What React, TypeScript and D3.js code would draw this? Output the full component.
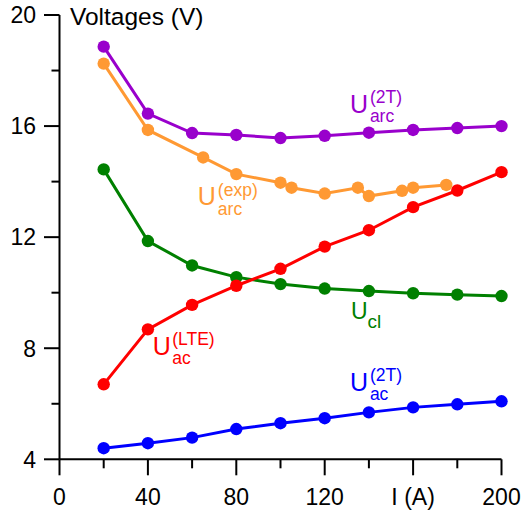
import React from "react";
import * as d3 from "d3";

const currents = [20, 40, 60, 80, 100, 120, 140, 160, 180, 200];
const uArc2T = [18.86, 16.45, 15.75, 15.68, 15.57, 15.65, 15.76, 15.86, 15.93, 16.0];
const uCl = [14.44, 11.86, 10.98, 10.56, 10.31, 10.15, 10.06, 9.98, 9.93, 9.88];
const uAcLTE = [6.7, 8.68, 9.56, 10.25, 10.86, 11.66, 12.25, 13.08, 13.68, 14.34];
const uAc2T = [4.4, 4.58, 4.78, 5.09, 5.3, 5.48, 5.69, 5.87, 5.98, 6.09];
const expCurrents = [20, 40, 65, 80, 100, 105, 120, 135, 140, 155, 160, 175];
const uArcExp = [18.25, 15.86, 14.87, 14.27, 13.96, 13.78, 13.57, 13.78, 13.48, 13.67, 13.78, 13.88];

const xTickValues = [0, 40, 80, 120, 160, 200];
const xTickLabels = ["0", "40", "80", "120", "I (A)", "200"];
const xMinorTicks = [20, 60, 100, 140, 180];
const yTickValues = [4, 8, 12, 16, 20];
const yMinorTicks = [6, 10, 14, 18];

const FONT = "'Liberation Sans', Arial, Helvetica, sans-serif";

type Series = { xs: number[]; ys: number[]; color: string };
type Label = { x: number; y: number; sup?: string; sub: string; color: string; size: number; off: number };

export default function App() {
  const x = d3.scaleLinear().domain([0, 200]).range([59.5, 501.5]);
  const y = d3.scaleLinear().domain([4, 20]).range([459.3, 15]);

  const series: Series[] = [
    { xs: currents, ys: uCl, color: "#008000" },
    { xs: currents, ys: uAcLTE, color: "#FF0000" },
    { xs: currents, ys: uAc2T, color: "#0000FF" },
    { xs: expCurrents, ys: uArcExp, color: "#FF9933" },
    { xs: currents, ys: uArc2T, color: "#9900CC" },
  ];

  const labels: Label[] = [
    { x: 131.4, y: 16.47, sup: "(2T)", sub: "arc", color: "#9900CC", size: 25, off: 20 },
    { x: 62.6, y: 13.14, sup: "(exp)", sub: "arc", color: "#FF9933", size: 25, off: 20 },
    { x: 42.2, y: 7.76, sup: "(LTE)", sub: "ac", color: "#FF0000", size: 25, off: 19.5 },
    { x: 131.9, y: 9.05, sub: "cl", color: "#008000", size: 23, off: 16.5 },
    { x: 131.4, y: 6.47, sup: "(2T)", sub: "ac", color: "#0000FF", size: 25, off: 20 },
  ];

  const line = d3
    .line<[number, number]>()
    .x((d) => x(d[0]))
    .y((d) => y(d[1]));

  return (
    <svg width={522} height={512} style={{ display: "block", position: "absolute", left: 0, top: 0 }} fontFamily={FONT}>
      <rect width={522} height={512} fill="#fff" />
      {/* axes */}
      <line x1={x(0)} x2={x(0)} y1={y(20)} y2={y(4)} stroke="#000" strokeWidth={2} />
      <line x1={x(0)} x2={x(200)} y1={y(4)} y2={y(4)} stroke="#000" strokeWidth={2} />
      {yTickValues.map((v) => (
        <g key={"yt" + v}>
          <line x1={x(0) - 15.5} x2={x(0)} y1={y(v)} y2={y(v)} stroke="#000" strokeWidth={2} />
          <text x={36} y={y(v)} dy="0.36em" textAnchor="end" fontSize={23} fill="#000">
            {v}
          </text>
        </g>
      ))}
      {yMinorTicks.map((v) => (
        <line key={"ym" + v} x1={x(0) - 8} x2={x(0)} y1={y(v)} y2={y(v)} stroke="#000" strokeWidth={2} />
      ))}
      {xTickValues.map((v, i) => (
        <g key={"xt" + v}>
          <line x1={x(v)} x2={x(v)} y1={y(4)} y2={y(4) + 16} stroke="#000" strokeWidth={2} />
          <text x={x(v)} y={505} textAnchor="middle" fontSize={23} fill="#000">
            {xTickLabels[i]}
          </text>
        </g>
      ))}
      {xMinorTicks.map((v) => (
        <line key={"xm" + v} x1={x(v)} x2={x(v)} y1={y(4)} y2={y(4) + 9} stroke="#000" strokeWidth={2} />
      ))}
      <text x={70} y={25} fontSize={24.5} fill="#000">
        Voltages (V)
      </text>
      {/* series */}
      {series.map((s, si) => {
        const pts: [number, number][] = s.xs.map((v, i) => [v, s.ys[i]]);
        return (
          <g key={"s" + si}>
            <path d={line(pts) || ""} fill="none" stroke={s.color} strokeWidth={3} />
            {pts.map((p, i) => (
              <circle key={i} cx={x(p[0])} cy={y(p[1])} r={6.2} fill={s.color} />
            ))}
          </g>
        );
      })}
      {/* labels */}
      {labels.map((l, i) => {
        const px = x(l.x);
        const py = y(l.y);
        return (
          <g key={"l" + i} fill={l.color}>
            <text x={px} y={py} fontSize={l.size}>
              U
            </text>
            {l.sup && (
              <text x={px + l.off} y={py - 9.6} fontSize={17.5}>
                {l.sup}
              </text>
            )}
            <text x={px + l.off} y={py + 9.4} fontSize={l.sup ? 17.5 : 19}>
              {l.sub}
            </text>
          </g>
        );
      })}
    </svg>
  );
}
